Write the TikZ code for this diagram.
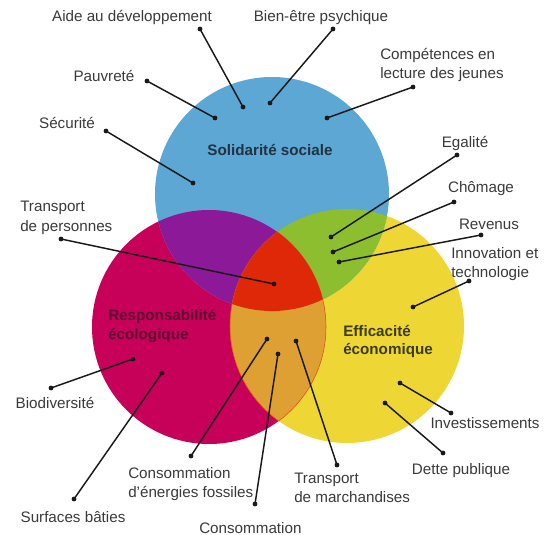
\documentclass[tikz,border=0pt]{standalone}
\usepackage{fontspec}
\setmainfont{Liberation Sans}
\definecolor{cblue}{RGB}{92,167,212}
\definecolor{cmag}{RGB}{199,0,90}
\definecolor{cyel}{RGB}{238,214,52}
\definecolor{cpur}{RGB}{140,26,152}
\definecolor{cgrn}{RGB}{140,190,48}
\definecolor{corg}{RGB}{222,160,50}
\definecolor{cred}{RGB}{222,40,8}
\definecolor{lblc}{RGB}{58,58,58}
\definecolor{linec}{RGB}{25,25,25}
\definecolor{tblue}{RGB}{35,50,65}
\definecolor{tmag}{RGB}{95,10,50}
\definecolor{tyel}{RGB}{60,60,20}
\newcommand\lblfont{\fontsize{11.4pt}{14.25pt}\selectfont}
\newcommand\titfont{\fontsize{11.4pt}{13.5pt}\selectfont\bfseries}
\begin{document}
\begin{tikzpicture}[x=0.75pt,y=-0.75pt,
  dot/.style={circle,fill=linec,inner sep=0pt,minimum size=3.6pt},
  conn/.style={draw=linec,line width=1.1pt},
  lbl/.style={font=\lblfont,text=lblc,inner sep=0pt,anchor=base},
  lbll/.style={font=\lblfont,text=lblc,inner sep=0pt,anchor=base west,align=left},
  tit/.style={font=\titfont,inner sep=0pt,anchor=base west,align=left}]
\useasboundingbox (0,0) rectangle (547,535);
\def\R{87.75pt}
\coordinate (cB) at (272,194);
\coordinate (cM) at (209,327);
\coordinate (cY) at (347,326);
% circles
\fill[cmag] (cM) circle[radius=\R];
\fill[cyel] (cY) circle[radius=\R];
\fill[cblue] (cB) circle[radius=\R];
\begin{scope}
  \clip (cB) circle[radius=\R];
  \fill[cpur] (cM) circle[radius=\R];
  \fill[cgrn] (cY) circle[radius=\R];
\end{scope}
\begin{scope}
  \clip (cM) circle[radius=\R];
  \fill[corg] (cY) circle[radius=\R];
  \draw[draw=cred!70!corg,line width=0.4pt] (cY) circle[radius=\R];
\end{scope}
\begin{scope}
  \clip (cY) circle[radius=\R];
  \draw[draw=cred!70!corg,line width=0.4pt] (cM) circle[radius=\R];
\end{scope}
\begin{scope}
  \clip (cB) circle[radius=\R];
  \clip (cM) circle[radius=\R];
  \fill[cred] (cY) circle[radius=\R];
\end{scope}
% circle titles (multi-line: base = last line)
\node[tit,text=tblue,anchor=base] (tS) at (270,156) {Solidarité sociale};
\node[tit,text=tmag] (tR) at (108,339) {Responsabilité\\écologique};
\node[tit,text=tyel] (tE) at (343,354) {Efficacité\\économique};
% labels
\node[lbl] (lAide) at (132,22) {Aide au développement};
\node[lbl] (lBien) at (321,22) {Bien-être psychique};
\node[lbl] (lPauv) at (104,82) {Pauvreté};
\node[lbl] (lSecu) at (67,128) {Sécurité};
\node[lbll] (lComp) at (380,79) {Compétences en\\lecture des jeunes};
\node[lbl] (lEgal) at (465,148) {Egalité};
\node[lbl] (lChom) at (481,193) {Chômage};
\node[lbl] (lReve) at (489,229) {Revenus};
\node[lbll] (lInno) at (451,277) {Innovation et\\technologie};
\node[lbll] (lTrP) at (20,231) {Transport\\de personnes};
\node[lbl] (lBiod) at (55,408) {Biodiversité};
\node[lbl] (lSurf) at (73,522) {Surfaces bâties};
\node[lbll] (lCEn) at (128,497) {Consommation\\d’énergies fossiles};
\node[lbll] (lCMa) at (199,552) {Consommation\\de matières};
\node[lbll] (lTrM) at (294,502) {Transport\\de marchandises};
\node[lbl] (lInv) at (485,428) {Investissements};
\node[lbl] (lDett) at (461,474) {Dette publique};
% dots
\node[dot] (sAide) at (200,29) {};   \node[dot] (eAide) at (243,107) {};
\node[dot] (sBien) at (333,29) {};   \node[dot] (eBien) at (270,103) {};
\node[dot] (sPauv) at (147,81) {};   \node[dot] (ePauv) at (215,118) {};
\node[dot] (sSecu) at (106,131) {};  \node[dot] (eSecu) at (193,183) {};
\node[dot] (sComp) at (413,87) {};   \node[dot] (eComp) at (327,118) {};
\node[dot] (sEgal) at (457,155) {};  \node[dot] (eEgal) at (331,237) {};
\node[dot] (sChom) at (454,202) {};  \node[dot] (eChom) at (333,252) {};
\node[dot] (sReve) at (481,235) {};  \node[dot] (eReve) at (339,262) {};
\node[dot] (sInno) at (469,281) {};  \node[dot] (eInno) at (413,307) {};
\node[dot] (sTrP) at (61,239) {};    \node[dot] (eTrP) at (274,284) {};
\node[dot] (sBiod) at (51,388) {};   \node[dot] (eBiod) at (133,359) {};
\node[dot] (sSurf) at (74,499) {};   \node[dot] (eSurf) at (162,373) {};
\node[dot] (sCEn) at (191,456) {};   \node[dot] (eCEn) at (267,339) {};
\node[dot] (sCMa) at (255,504) {};   \node[dot] (eCMa) at (278,354) {};
\node[dot] (sTrM) at (337,465) {};   \node[dot] (eTrM) at (296,341) {};
\node[dot] (sInv) at (451,413) {};   \node[dot] (eInv) at (400,383) {};
\node[dot] (sDett) at (443,453) {};  \node[dot] (eDett) at (385,403) {};
% connectors
\foreach \n in {Aide,Bien,Pauv,Secu,Comp,Egal,Chom,Reve,Inno,TrP,Biod,Surf,CEn,CMa,TrM,Inv,Dett}
  \draw[conn] (s\n.center) -- (e\n.center);
\end{tikzpicture}
\end{document}
